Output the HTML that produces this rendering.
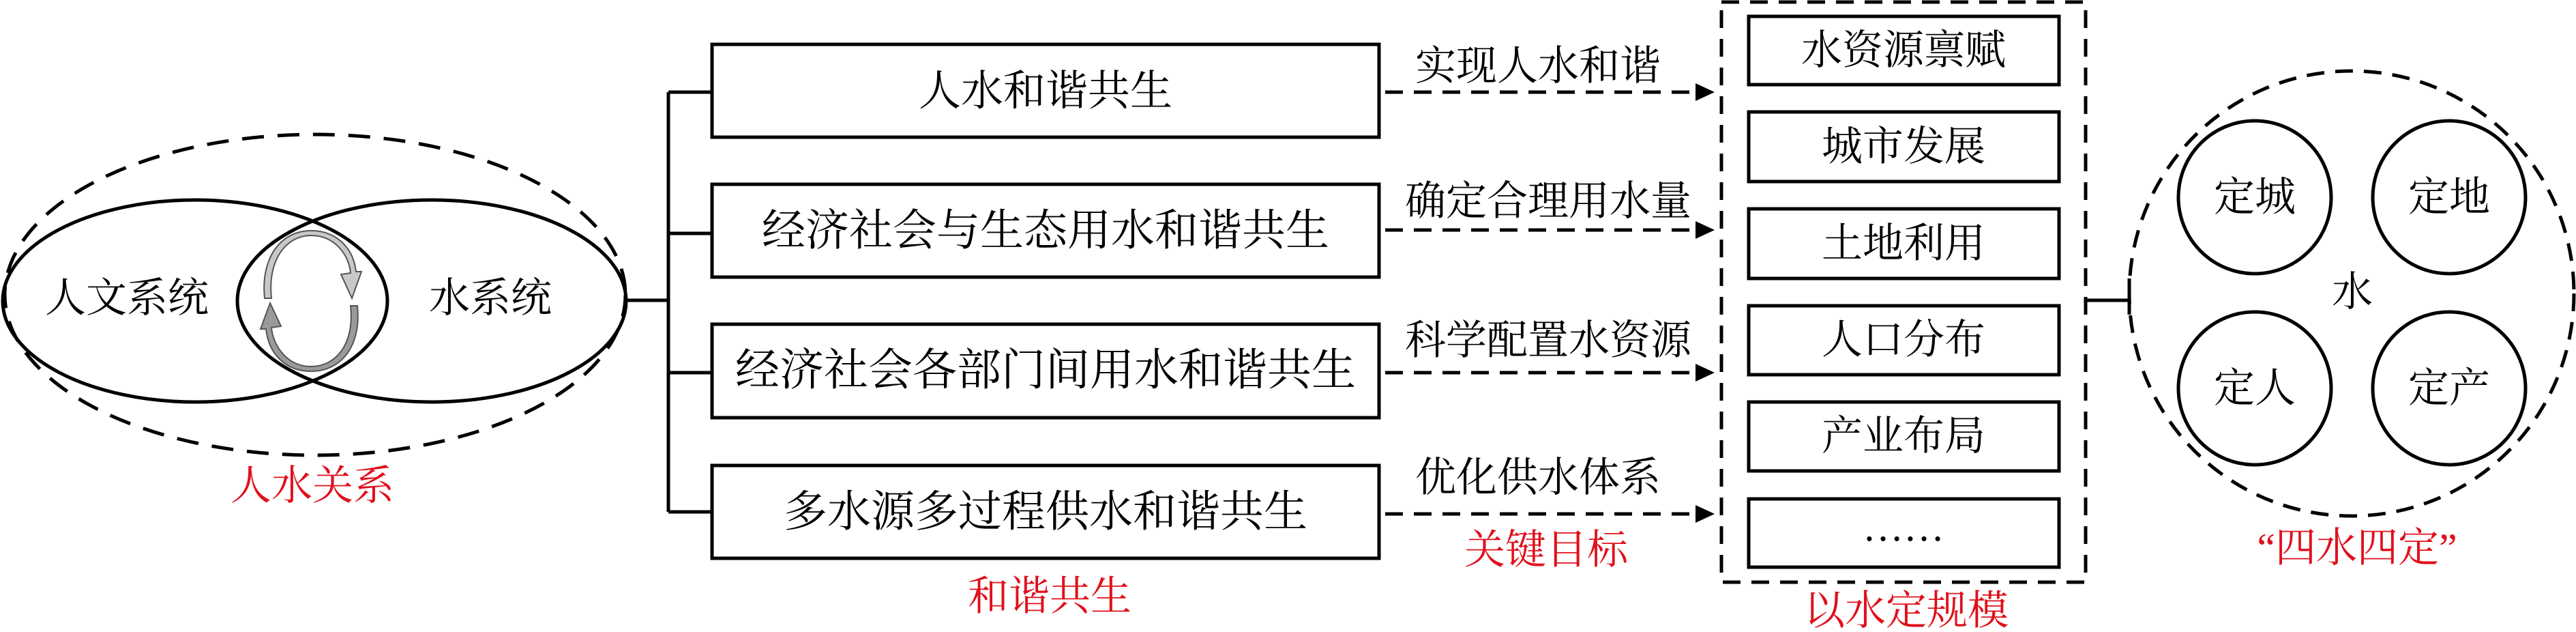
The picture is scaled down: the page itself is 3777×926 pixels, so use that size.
<!DOCTYPE html>
<html><head><meta charset="utf-8"><style>
html,body{margin:0;padding:0;background:#fff}
svg{display:block}
text{font-family:"Liberation Serif","Noto Serif CJK SC",serif;dominant-baseline:central;text-anchor:middle}
</style></head><body>
<svg width="3777" height="926" viewBox="0 0 3777 926" xmlns="http://www.w3.org/2000/svg">
<defs>
<marker id="ah" markerWidth="10" markerHeight="10" refX="0" refY="5" orient="auto" markerUnits="userSpaceOnUse" viewBox="0 0 10 10">
</marker>
</defs>
<g fill="none" stroke="#000" stroke-width="5">
<ellipse cx="462" cy="432" rx="455" ry="235" stroke-dasharray="32 20"/>
<ellipse cx="286" cy="441" rx="282" ry="148"/>
<ellipse cx="633" cy="441" rx="285" ry="148"/>
<path d="M918 440H980M980 135V750M980 135H1044M980 342H1044M980 546H1044M980 750H1044"/>
<rect x="1044" y="65" width="978" height="136"/>
<rect x="1044" y="270" width="978" height="136"/>
<rect x="1044" y="475" width="978" height="137"/>
<rect x="1044" y="682" width="978" height="136"/>
<g stroke-dasharray="26 16">
<path d="M2031 135H2486M2031 337H2486M2031 546H2486M2031 753H2486"/>
<rect x="2524" y="3" width="534" height="850"/>
<circle cx="3448" cy="430" r="326"/>
</g>
<rect x="2564" y="24" width="455" height="100"/>
<rect x="2564" y="164" width="455" height="102"/>
<rect x="2564" y="306" width="455" height="102"/>
<rect x="2564" y="448" width="455" height="101"/>
<rect x="2564" y="589" width="455" height="101"/>
<rect x="2564" y="731" width="455" height="100"/>
<path d="M3058 440H3122M3122 408V461"/>
<ellipse cx="3306" cy="289" rx="112" ry="112"/>
<ellipse cx="3591" cy="289" rx="112" ry="112"/>
<ellipse cx="3306" cy="569" rx="112" ry="112"/>
<ellipse cx="3591" cy="569" rx="112" ry="112"/>
</g>
<g fill="#000">
<polygon points="2486,122 2514,135 2486,148"/>
<polygon points="2486,324 2514,337 2486,350"/>
<polygon points="2486,533 2514,546 2486,559"/>
<polygon points="2486,740 2514,753 2486,766"/>
</g>
<!-- circular arrows -->
<g stroke="#555" stroke-width="2">
<path d="M398 437 C392 380 420 345 456 345 C492 345 512 375 514 400 L500 402 L516 437 L530 398 L522 398 C518 362 492 338 456 338 C410 338 382 380 388 437 Z" fill="#c8c8c8"/>
<path d="M514 448 C520 505 492 537 456 537 C420 537 400 505 398 480 L412 478 L396 444 L382 482 L390 482 C394 520 420 544 456 544 C502 544 530 505 524 448 Z" fill="#9a9a9a"/>
</g>
<g font-size="60" fill="#000">
<text x="186" y="437">人文系统</text>
<text x="719" y="437">水系统</text>
<text x="1533" y="134" font-size="62">人水和谐共生</text>
<text x="1533" y="338" font-size="64">经济社会与生态用水和谐共生</text>
<text x="1533" y="543" font-size="65">经济社会各部门间用水和谐共生</text>
<text x="1533" y="750" font-size="64">多水源多过程供水和谐共生</text>
<text x="2255" y="97">实现人水和谐</text>
<text x="2270" y="295">确定合理用水量</text>
<text x="2270" y="499">科学配置水资源</text>
<text x="2255" y="700">优化供水体系</text>
<text x="2791" y="74">水资源禀赋</text>
<text x="2791" y="215">城市发展</text>
<text x="2791" y="357">土地利用</text>
<text x="2791" y="498">人口分布</text>
<text x="2791" y="639">产业布局</text>
<text x="2791" y="772">……</text>
<text x="3306" y="289">定城</text>
<text x="3591" y="289">定地</text>
<text x="3306" y="569">定人</text>
<text x="3591" y="569">定产</text>
<text x="3449" y="428">水</text>
</g>
<g font-size="60" fill="#e0101c">
<text x="458" y="712">人水关系</text>
<text x="1539" y="874">和谐共生</text>
<text x="2267" y="806">关键目标</text>
<text x="2795" y="895">以水定规模</text>
<text x="3456" y="803">“四水四定”</text>
</g>
</svg>
</body></html>
